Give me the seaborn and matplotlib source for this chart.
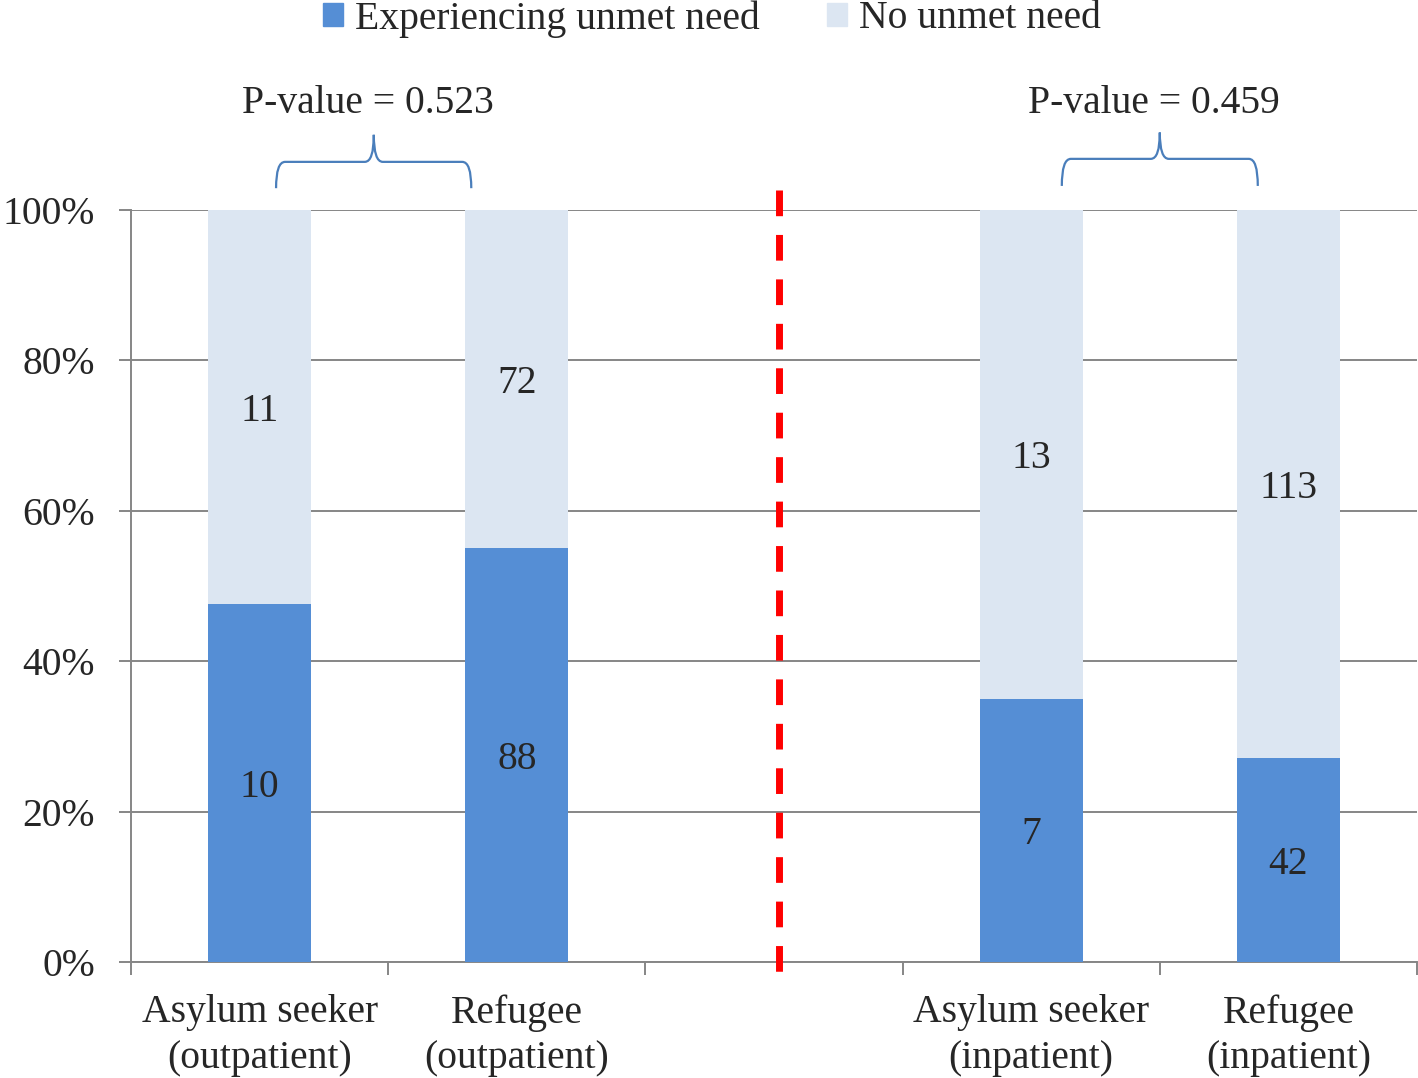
import pandas as pd
import seaborn as sns
import matplotlib.pyplot as plt
from matplotlib.path import Path
from matplotlib.patches import PathPatch, Patch
from matplotlib.ticker import PercentFormatter

# %%
# Data: counts per group
groups = ["Asylum seeker\n(outpatient)", "Refugee\n(outpatient)",
          "Asylum seeker\n(inpatient)", "Refugee\n(inpatient)"]
unmet = [10, 88, 7, 42]
no_unmet = [11, 72, 13, 113]
p_values = ["0.523", "0.459"]

BLUE = "#558ED5"
LIGHT = "#DCE6F2"
GREY = "#868686"
BRACE = "#4A7EBB"
FS = 28.5

df = pd.DataFrame({"group": groups, "unmet": unmet, "none": no_unmet})
df["total"] = df["unmet"] + df["none"]
df["pct_unmet"] = df["unmet"] / df["total"]
df["pct_all"] = 1.0

# empty slot between outpatient and inpatient
order = groups[:2] + [""] + groups[2:]

sns.set_style("white")
plt.rcParams["font.family"] = ["Liberation Serif", "DejaVu Serif"]

fig = plt.figure(figsize=(14.18, 10.78), dpi=100)
ax = fig.add_axes([131 / 1418, 1 - 962 / 1078, 1286 / 1418, 752 / 1078])

sns.barplot(data=df, x="group", y="pct_all", order=order, color=LIGHT,
            saturation=1, width=0.4, linewidth=0, ax=ax, zorder=2)
sns.barplot(data=df, x="group", y="pct_unmet", order=order, color=BLUE,
            saturation=1, width=0.4, linewidth=0, ax=ax, zorder=3)

# count labels in the middle of each segment
for bar, p, n_un, n_no in zip(ax.containers[1], df["pct_unmet"], unmet, no_unmet):
    xc = bar.get_x() + bar.get_width() / 2
    ax.text(xc, p / 2, str(n_un), ha="center", va="center_baseline",
            fontsize=FS, zorder=4)
    ax.text(xc, p + (1 - p) / 2, str(n_no), ha="center", va="center_baseline",
            fontsize=FS, zorder=4)

ax.set_xlim(-0.5, 4.5)
ax.set_ylim(0, 1)
ax.set_xlabel("")
ax.set_ylabel("")
ax.yaxis.set_major_formatter(PercentFormatter(1.0, decimals=0))
ax.set_yticks([0, 0.2, 0.4, 0.6, 0.8, 1.0])
ax.yaxis.grid(True, color=GREY, lw=1.4)
ax.set_axisbelow(True)

ax.set_xticks(range(5), order)
ax.set_xticks([i - 0.5 for i in range(6)], minor=True)
ax.tick_params(axis="x", which="major", length=0, pad=23, labelsize=FS)
ax.tick_params(axis="x", which="minor", length=9, width=1.4, color=GREY, bottom=True)
ax.tick_params(axis="y", length=9, width=1.4, color=GREY, pad=17, labelsize=FS, left=True)
for lbl in ax.get_xticklabels():
    lbl.set_linespacing(1.32)

for side in ["top", "right"]:
    ax.spines[side].set_visible(False)
for side in ["left", "bottom"]:
    ax.spines[side].set_color(GREY)
    ax.spines[side].set_linewidth(1.4)

# red divider between outpatient and inpatient
ax.plot([2.02, 2.02], [1.027, -0.021], color="red", lw=5,
        ls=(0, (3.7, 2.7)), dash_capstyle="butt", clip_on=False, zorder=5)


# curly braces with p-values
def brace(x0, x1, xm, yb=1.029, yh=1.064, yp=1.10, r=0.035):
    verts = [(x0, yb), (x0, yh), (x0 + r, yh),
             (xm - r, yh), (xm, yh), (xm, yp),
             (xm, yh), (xm + r, yh),
             (x1 - r, yh), (x1, yh), (x1, yb)]
    codes = [Path.MOVETO, Path.CURVE3, Path.CURVE3,
             Path.LINETO, Path.CURVE3, Path.CURVE3,
             Path.CURVE3, Path.CURVE3,
             Path.LINETO, Path.CURVE3, Path.CURVE3]
    ax.add_patch(PathPatch(Path(verts, codes), fill=False, ec=BRACE,
                           lw=1.6, clip_on=False))


brace(0.064, 0.823, 0.444)
brace(3.119, 3.881, 3.5, yb=1.032, yh=1.068, yp=1.103)
ax.text(0.422, 1.142, f"P-value = {p_values[0]}", ha="center", va="center",
        fontsize=FS)
ax.text(3.477, 1.141, f"P-value = {p_values[1]}", ha="center", va="center",
        fontsize=FS)

handles = [Patch(color=BLUE, label="Experiencing unmet need"),
           Patch(color=LIGHT, label="No unmet need")]
fig.legend(handles=handles, loc="upper center", bbox_to_anchor=(0.502, 1.0),
           ncol=2, frameon=False, fontsize=FS, handlelength=0.5,
           handleheight=0.5, handletextpad=0.3, columnspacing=1.7,
           borderpad=0, borderaxespad=0)

fig.savefig("out.png", dpi=100)
